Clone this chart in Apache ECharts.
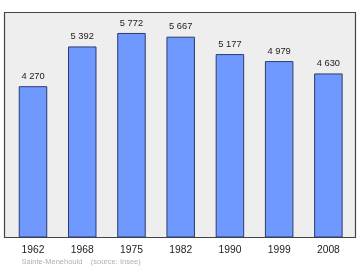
<!DOCTYPE html>
<html><head><meta charset="utf-8">
<script src="https://cdn.jsdelivr.net/npm/echarts@6/dist/echarts.min.js"></script>
<style>html,body{margin:0;padding:0;background:#fff}#c{width:360px;height:270px}</style>
</head><body><div id="c"></div>
<script>
const years = ['1962','1968','1975','1982','1990','1999','2008'];
const population = [4270, 5392, 5772, 5667, 5177, 4979, 4630];
const footerText = 'Sainte-Menehould    (source: Insee)';

const chart = echarts.init(document.getElementById('c'), null, {renderer:'canvas'});
chart.setOption({
  animation: false,
  grid: {left: 8.4, right: 7, top: 12.5, bottom: 32.5},
  graphic: [
    {type:'rect', z:0, shape:{x:4.5, y:12.5, width:351, height:225},
     style:{fill:'#eeeeee', stroke:'#444', lineWidth:1.2}},
    {type:'text', z:10, left:21.5, top:258,
     style:{text: footerText, fill:'#b0b0b0', font:'7.5px "Liberation Sans", Arial, sans-serif'}}
  ],
  xAxis: {
    type:'category', data: years,
    axisLine:{show:false}, axisTick:{show:false},
    axisLabel:{color:'#222', fontSize:10.3, fontFamily:'Liberation Sans, Arial, sans-serif', margin:8}
  },
  yAxis: {type:'value', min:0, max:6350, show:false, splitLine:{show:false}},
  series: [{
    type:'bar', data: population, barWidth: 28.5,
    itemStyle:{color:'#6f99ff', borderColor:'#2e3a6e', borderWidth:1},
    label:{show:true, position:'top', distance:5.5, color:'#222', fontSize:9.3,
      fontFamily:'Liberation Sans, Arial, sans-serif',
      formatter: p => String(p.value).replace(/\B(?=(\d{3})+(?!\d))/g,' ')}
  }]
});
</script></body></html>
